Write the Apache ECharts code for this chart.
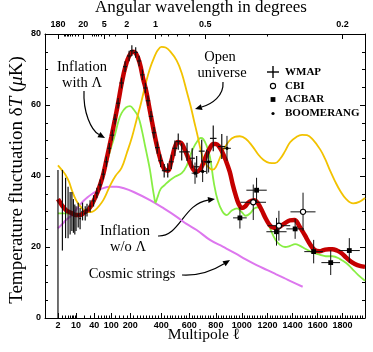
<!DOCTYPE html>
<html>
<head>
<meta charset="utf-8">
<script src="https://cdn.jsdelivr.net/npm/echarts@6/dist/echarts.min.js"></script>
<style>
    html, body { margin: 0; padding: 0; background: #fff; }
    #cmb-chart { width: 373px; height: 352px; }
</style>
</head>
<body>
<div id="cmb-chart"></div>
<script>
// multipole range shown, and the log+linear stretch of the l axis
var L_MIN = 0.6, L_MAX = 1982, K = 207.6;
function u(l) { return l + K * Math.log10(l); }

var bottomLabels = [2, 10, 40, 100, 200, 400, 600, 800, 1000, 1200, 1400, 1600, 1800];
var topLabelsDeg = [180, 20, 5, 2, 1, 0.5, 0.2];
var topMinorDeg = [100, 90, 80, 70, 60, 50, 40, 30, 10, 9, 8, 7, 6, 4, 3, 0.9, 0.8, 0.7, 0.6, 0.4, 0.3];

// theory curves [l, dT]
var inflationLambda = [[2,33.5],[4,30.5],[7,29.5],[10,29],[14,29],[20,29.8],[27,30.6],[36,32.5],[47,35],[58,37.8],[68,40.5],[80,44.5],[101,51],[117,55.8],[133,60.5],[153,66.5],[173,71],[193,73.8],[215,75],[235,74.4],[257,71.8],[278,67.5],[298,64],[320,59],[345,53.5],[370,48.5],[395,44.5],[420,42],[445,41.5],[472,44.5],[495,48],[517,49.6],[540,49.3],[562,47.9],[585,45.8],[606,43.7],[630,41.8],[652,41.1],[678,41.7],[703,43.5],[730,46],[755,47.9],[780,49],[800,49],[823,48.4],[846,47],[875,44.5],[906,41.2],[930,37.5],[952,34.6],[975,32.2],[1000,31],[1025,31.4],[1050,32.5],[1075,33],[1100,33.2],[1128,32.2],[1155,30.4],[1190,27.8],[1218,26.2],[1250,25.4],[1280,25.4],[1310,26],[1342,26.8],[1378,27.5],[1414,27.6],[1455,25.8],[1496,23.4],[1535,21],[1574,19.2],[1615,18.8],[1654,19.2],[1690,19.4],[1718,19.4],[1755,19],[1790,18.3],[1830,17],[1871,15.8],[1920,14.9],[1982,14.4]];
var openUniverse = [[2,43],[3,41.5],[4,40.3],[5.5,38.3],[7,36],[10,33.2],[14,31.5],[19,30.4],[26,29.8],[34,29.9],[42,30.4],[55,31.7],[68,33.2],[82,35.3],[96,37.4],[120,40],[151,42.3],[180,46.5],[210,51],[237,55.8],[265,60.5],[295,66],[323,70.3],[350,73.3],[375,75.4],[402,76.4],[430,76.2],[460,75.2],[509,72.5],[545,69],[584,63.5],[610,59.8],[636,55.5],[661,51.5],[684,47.5],[703,45],[730,43],[760,42],[777,41.8],[800,42.5],[853,47],[900,49.8],[945,51],[985,51.2],[1030,50.5],[1080,48.5],[1125,46.2],[1170,44.5],[1215,43.7],[1260,43.6],[1300,44.8],[1340,47],[1380,49.5],[1430,51],[1475,51.6],[1515,51.5],[1560,50.3],[1620,47.5],[1660,44.8],[1700,41.5],[1740,38.5],[1782,35.8],[1830,33.5],[1886,32.3],[1935,32.7],[1982,33.8]];
var inflationNoLambda = [[2,29.5],[4,29.5],[7,29.3],[10,29.2],[14,29.3],[20,29.6],[26,30.2],[35,31.5],[45,34],[58,37.5],[74,41.7],[95,47],[117,51.5],[135,55.5],[151,57.7],[175,59.3],[198,59.7],[222,58.6],[248,56.7],[270,53],[292,48.3],[308,45],[323,41.7],[340,37],[352,34],[360,32.5],[372,33.8],[395,36.3],[425,37.5],[460,38.8],[496,39.8],[545,40.8],[584,43.1],[610,46],[632,48],[660,49.8],[684,50.7],[705,50.4],[730,48.5],[755,45.4],[785,38],[815,33],[850,30],[883,29],[920,30.2],[963,30.9],[1000,29.8],[1030,28.8],[1065,29.5],[1095,30.8],[1125,31.2],[1160,30],[1195,27.8],[1230,24.5],[1265,22],[1300,20.6],[1340,20],[1380,20.3],[1420,20.8],[1460,20.3],[1500,19.5],[1540,18.8],[1580,18.2],[1620,17.8],[1665,17.4],[1720,17.4],[1780,16.6],[1830,15.5],[1880,13.8],[1930,12],[1982,10.5]];
var cosmicStrings = [[2,25.3],[3,26.5],[4,27.5],[6,28.6],[9,30],[13,31.6],[17.5,32.8],[25,34],[35,35],[45,35.6],[65,36.5],[95,37],[125,37],[160,36.6],[220,35.5],[323,33.2],[420,30.8],[509,28.5],[580,26.5],[655,24.8],[755,22],[853,20.1],[950,18.2],[1030,16.5],[1115,14.9],[1200,13.5],[1270,12.3],[1330,11.3],[1400,10.1],[1480,8.8]];

// measurements [l, dT, low, high, half bin width]
var wmap = [[2,14,0,41.7,0],[3,30,19,41.7,0],[4,31,22.5,39.5,0],[5,29.5,22.5,37,0],[6,29,23.5,35.5,0],[7,30,24.5,35.5,0],[8,28.5,24,33.5,0],[9,27.5,23.5,32,0],[10,28,24.5,31.5,0],[12,29,25.5,32.5,1],[14,28,25,31,1],[17,30,27.5,32.5,1.5],[21,29.5,27.5,31.5,2],[24,30.4,28.6,32.2,2.5],[30,31.5,29.8,33.2,3],[38,33,31.4,34.6,4],[47,35.2,33.7,36.7,5],[57,37.5,36,39,6],[68,40.5,39,42,6],[80,44,42.5,45.5,7],[92,47.8,46.3,49.3,8],[105,51.5,50,53,9],[118,56,54.5,57.5,9],[133,60.5,59,62,10],[151,66.2,64.7,67.7,11],[170,70.8,69.3,72.3,11],[193,73.8,72.3,75.3,12],[209,75.3,73.8,76.8,12],[232,74.8,73.3,76.3,13],[253,72.4,70.9,73.9,13],[274,68.5,67,70,13],[293,64.8,63.3,66.3,13],[310,61.2,59.7,62.7,14],[330,56.8,55.3,58.3,14],[350,52.2,50.6,53.8,14],[372,48,46.3,49.7,15],[395,44.3,42.5,46.1,15],[420,41.5,39.6,43.4,16],[445,41.6,39.6,43.6,16],[470,44,42,46,17],[496,47.8,45.6,50,17],[520,49.7,47.4,52,18],[545,46.8,44.4,49.2,18],[584,46.8,44.2,49.4,20],[622,45,42.2,47.8,20],[655,42.6,39.6,45.6,20],[693,47,43.8,50.2,22],[731,44,40.6,47.4,22],[780,50.6,47,54.2,25],[845,48.3,44.8,51.8,28]];
var cbi = [[1089,32.6,27.6,37.6,100],[1291,26,21.8,30.2,90],[1483,29.9,24.5,35.3,100]];
var acbar = [[985,28.2,25.2,31.2,53],[1115,36,32.5,39.5,80],[1272,24.3,20.4,28.2,80],[1420,25.1,22.3,27.9,70],[1568,18.7,15.4,22,75],[1705,15.6,12.1,19.1,75],[1855,19,15.5,22.5,85]];
var boomerang = [[643,40.8,37.8,43.8,25],[700,41.3,38.3,44.3,25],[745,44,41,47,25],[885,47.8,44.3,51.3,30]];

var bottomMinor = [];
[3,4,5,6,7,8,9,20,30,50,60,70,80,90].forEach(function (l) { bottomMinor.push(l); });
for (var l = 120; l < L_MAX; l += 20) { if (bottomLabels.indexOf(l) < 0) bottomMinor.push(l); }

var bottomU = bottomLabels.map(u);
var topU = topLabelsDeg.map(function (d) { return u(360 / d); });

function lineData(list) { return list.map(function (p) { return [u(p[0]), p[1]]; }); }
function barData(list) {
    return list.map(function (d) { return [u(d[0]), d[1], d[2], d[3], u(d[0] - d[4]), u(d[0] + d[4])]; });
}
function labelFor(values, names) {
    return function (val) {
        for (var i = 0; i < values.length; i++) {
            if (Math.abs(values[i] - val) < 1e-6) return String(names[i]);
        }
        return '';
    };
}

function errorBarItem(marker, width) {
    return function (params, api) {
        var c = api.coord([api.value(0), api.value(1)]);
        var lo = api.coord([api.value(0), api.value(2)]);
        var hi = api.coord([api.value(0), api.value(3)]);
        var left = api.coord([api.value(4), api.value(1)]);
        var right = api.coord([api.value(5), api.value(1)]);
        var st = { stroke: '#111', lineWidth: width };
        var kids = [{ type: 'line', shape: { x1: c[0], y1: hi[1], x2: c[0], y2: lo[1] }, style: st }];
        if (right[0] - left[0] > 0.5) {
            kids.push({ type: 'line', shape: { x1: left[0], y1: c[1], x2: right[0], y2: c[1] }, style: st });
        }
        if (marker === 'circle') kids.push({ type: 'circle', shape: { cx: c[0], cy: c[1], r: 2.6 }, style: { fill: '#fff', stroke: '#000', lineWidth: 1.1 } });
        if (marker === 'square') kids.push({ type: 'rect', shape: { x: c[0] - 2.4, y: c[1] - 2.4, width: 4.8, height: 4.8 }, style: { fill: '#000' } });
        if (marker === 'dot') kids.push({ type: 'circle', shape: { cx: c[0], cy: c[1], r: 1.6 }, style: { fill: '#000' } });
        return { type: 'group', children: kids };
    };
}

function arrow(p0, c1, c2, p1) {
    var dx = p1[0] - c2[0], dy = p1[1] - c2[1], n = Math.sqrt(dx * dx + dy * dy);
    dx /= n; dy /= n;
    var bx = p1[0] - 7 * dx, by = p1[1] - 7 * dy;
    return [
        { type: 'bezierCurve', shape: { x1: p0[0], y1: p0[1], cpx1: c1[0], cpy1: c1[1], cpx2: c2[0], cpy2: c2[1], x2: bx, y2: by },
          style: { stroke: '#000', fill: null, lineWidth: 1.2 } },
        { type: 'polygon', shape: { points: [[p1[0], p1[1]], [bx - 3 * dy, by + 3 * dx], [bx + 3 * dy, by - 3 * dx]] },
          style: { fill: '#000' } }
    ];
}

var serif = '"Liberation Serif", serif';
function note(text, x, y, size) {
    return { type: 'text', x: x, y: y, style: { text: text, font: size + 'px ' + serif, fill: '#000', align: 'center', verticalAlign: 'middle' } };
}

var tickLabel = { color: '#000', fontFamily: '"Liberation Sans", Arial', fontWeight: 'bold', fontSize: 9 };
var black = { color: '#000', width: 1 };

function xAxis(pos, values, names, minor) {
    return {
        type: 'value', position: pos, min: u(L_MIN), max: u(L_MAX),
        axisLine: { show: !minor, onZero: false, lineStyle: black },
        axisTick: { inside: true, length: minor ? 2.5 : 5, customValues: values, lineStyle: black },
        axisLabel: minor ? { show: false } : Object.assign({ customValues: values, formatter: labelFor(values, names), margin: pos === 'top' ? 5 : 3 }, tickLabel),
        splitLine: { show: false }
    };
}
function yAxis(pos) {
    return {
        type: 'value', position: pos, min: 0, max: 80, interval: 20,
        axisLine: { show: true, onZero: false, lineStyle: black },
        axisTick: { inside: true, length: 5, lineStyle: black },
        minorTick: { show: true, splitNumber: 4, length: 3, lineStyle: black },
        axisLabel: pos === 'left' ? Object.assign({ margin: 4 }, tickLabel) : { show: false },
        splitLine: { show: false }
    };
}

var graphics = [
    note('Angular wavelength in degrees', 201, 8, 17),
    { type: 'text', x: 204, y: 335, style: { text: 'Multipole ℓ', font: '15.5px ' + serif, fill: '#000', align: 'center', verticalAlign: 'middle' } },
    { type: 'text', x: 17, y: 180, rotation: Math.PI / 2,
      style: { text: '{a|Temperature fluctuation δ}{i|T}{a| (}{i|μ}{a|K)}', align: 'center', verticalAlign: 'middle',
               rich: { a: { font: '19px ' + serif, fill: '#000' }, i: { font: 'italic 19px ' + serif, fill: '#000' } } } },
    note('Inflation', 82, 67, 14.5), note('with Λ', 82, 83, 14.5),
    note('Open', 220, 57, 14.5), note('universe', 222, 73, 14.5),
    note('Inflation', 125, 231, 14.5), note('w/o Λ', 128, 247, 14.5),
    note('Cosmic strings', 132, 274, 14.5),
    // legend
    { type: 'line', shape: { x1: 267, y1: 72, x2: 279, y2: 72 }, style: { stroke: '#000', lineWidth: 1.4 } },
    { type: 'line', shape: { x1: 273, y1: 66, x2: 273, y2: 78 }, style: { stroke: '#000', lineWidth: 1.4 } },
    { type: 'circle', shape: { cx: 273, cy: 86, r: 2.6 }, style: { fill: '#fff', stroke: '#000', lineWidth: 1.1 } },
    { type: 'rect', shape: { x: 270.6, y: 97.1, width: 4.8, height: 4.8 }, style: { fill: '#000' } },
    { type: 'circle', shape: { cx: 273, cy: 113.5, r: 1.6 }, style: { fill: '#000' } }
];
[['WMAP', 72], ['CBI', 86], ['ACBAR', 99.5], ['BOOMERANG', 113.5]].forEach(function (r) {
    graphics.push({ type: 'text', x: 285, y: r[1], style: { text: r[0], font: 'bold 11px ' + serif, fill: '#000', verticalAlign: 'middle' } });
});
graphics = graphics.concat(
    arrow([84, 91], [83, 112], [91, 130], [105, 138]),
    arrow([223, 82], [224, 96], [212, 104], [195, 109]),
    arrow([158, 236], [180, 237], [183, 204], [215, 199]),
    arrow([182, 275], [200, 276], [214, 270], [230, 260])
);

function curve(data, color, width, z) {
    return { type: 'line', data: lineData(data), smooth: 0.4, symbol: 'none', z: z, silent: true,
             lineStyle: { color: color, width: width } };
}
function bars(data, marker, width) {
    return { type: 'custom', data: barData(data), renderItem: errorBarItem(marker, width), z: 10, silent: true,
             encode: { x: [0, 4, 5], y: [1, 2, 3] } };
}

var chart = echarts.init(document.getElementById('cmb-chart'), null, { renderer: 'canvas' });
chart.setOption({
    animation: false,
    backgroundColor: '#fff',
    grid: { left: 45, right: 8, top: 34, bottom: 34, containLabel: false },
    xAxis: [
        xAxis('bottom', bottomU, bottomLabels, false),
        xAxis('bottom', bottomMinor.map(u), null, true),
        xAxis('top', topU, topLabelsDeg, false),
        xAxis('top', topMinorDeg.map(function (d) { return u(360 / d); }), null, true)
    ],
    yAxis: [yAxis('left'), yAxis('right')],
    series: [
        curve(cosmicStrings, '#dd77ee', 2, 2),
        curve(inflationNoLambda, '#88ee44', 1.8, 3),
        curve(openUniverse, '#f2c200', 1.8, 4),
        curve(inflationLambda, '#c40000', 4.5, 5),
        bars(wmap, 'none', 1.2),
        bars(boomerang, 'dot', 1),
        bars(acbar, 'square', 1),
        bars(cbi, 'circle', 1)
    ],
    graphic: graphics
});
</script>
</body>
</html>
